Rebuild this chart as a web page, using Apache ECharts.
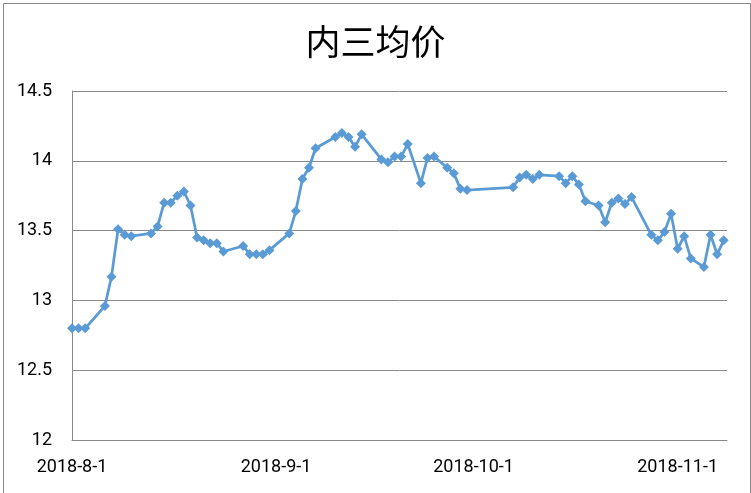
<!DOCTYPE html>
<html>
<head>
<meta charset="utf-8">
<script src="https://cdn.jsdelivr.net/npm/echarts@6/dist/echarts.min.js"></script>
<style>
html,body{margin:0;padding:0;background:#fff;}
#chart{width:751px;height:493px;}
</style>
</head>
<body>
<div id="chart"></div>
<script>
const titleText = '内三均价';
const dates = [
  '2018-08-01','2018-08-02','2018-08-03','2018-08-06','2018-08-07','2018-08-08','2018-08-09','2018-08-10',
  '2018-08-13','2018-08-14','2018-08-15','2018-08-16','2018-08-17','2018-08-18','2018-08-19','2018-08-20',
  '2018-08-21','2018-08-22','2018-08-23','2018-08-24','2018-08-27','2018-08-28','2018-08-29','2018-08-30',
  '2018-08-31','2018-09-03','2018-09-04','2018-09-05','2018-09-06','2018-09-07','2018-09-10','2018-09-11',
  '2018-09-12','2018-09-13','2018-09-14','2018-09-17','2018-09-18','2018-09-19','2018-09-20','2018-09-21',
  '2018-09-23','2018-09-24','2018-09-25','2018-09-27','2018-09-28','2018-09-29','2018-09-30','2018-10-07',
  '2018-10-08','2018-10-09','2018-10-10','2018-10-11','2018-10-14','2018-10-15','2018-10-16','2018-10-17',
  '2018-10-18','2018-10-20','2018-10-21','2018-10-22','2018-10-23','2018-10-24','2018-10-25','2018-10-28',
  '2018-10-29','2018-10-30','2018-10-31','2018-11-01','2018-11-02','2018-11-03','2018-11-05','2018-11-06',
  '2018-11-07','2018-11-08'
];
const prices = [
  12.80,12.80,12.80,12.96,13.17,13.51,13.47,13.46,
  13.48,13.53,13.70,13.70,13.75,13.78,13.68,13.45,
  13.43,13.41,13.41,13.35,13.39,13.33,13.33,13.33,
  13.36,13.48,13.64,13.87,13.95,14.09,14.17,14.20,
  14.17,14.10,14.19,14.01,13.99,14.03,14.03,14.12,
  13.84,14.02,14.03,13.95,13.91,13.80,13.79,13.81,
  13.88,13.90,13.87,13.90,13.89,13.84,13.89,13.83,
  13.71,13.68,13.56,13.70,13.73,13.69,13.74,13.47,
  13.43,13.49,13.62,13.37,13.46,13.30,13.24,13.47,
  13.33,13.43
];
const xTickDates = ['2018-08-01','2018-09-01','2018-10-01','2018-11-01'];
const xMin = '2018-08-01';
const xMax = '2018-11-08 12:00';
const yMin = 12, yMax = 14.5, yStep = 0.5;

function parseLocal(s){
  const m = s.match(/(\d+)-(\d+)-(\d+)(?:\s+(\d+):(\d+))?/);
  return new Date(+m[1], +m[2]-1, +m[3], m[4]?+m[4]:0, m[5]?+m[5]:0).getTime();
}

const chart = echarts.init(document.getElementById('chart'), null, {renderer:'canvas'});
const labelFont = 'Roboto, "Liberation Sans", sans-serif';
chart.setOption({
  backgroundColor:'#ffffff',
  animation:false,
  title:{
    text:titleText,
    left:'center',
    top:19,
    textStyle:{fontFamily:'"Noto Sans CJK SC", sans-serif', fontSize:35, fontWeight:'normal', color:'#000'}
  },
  graphic:[{
    type:'rect', left:1, top:1, shape:{x:0,y:0,width:747,height:490},
    style:{fill:'none', stroke:'#898989', lineWidth:1}, silent:true
  }],
  grid:{left:72, right:24, top:91, bottom:53, containLabel:false},
  xAxis:{
    type:'value',
    min:parseLocal(xMin),
    max:parseLocal(xMax),
    axisLine:{show:true, lineStyle:{color:'#898989', width:1}},
    axisTick:{show:false},
    splitLine:{show:false},
    axisLabel:{
      customValues:xTickDates.map(parseLocal),
      hideOverlap:false,
      margin:18,
      color:'#000',
      fontSize:18,
      fontFamily:labelFont,
      formatter:function(v){
        const d = new Date(v);
        return d.getFullYear()+'-'+(d.getMonth()+1)+'-'+d.getDate();
      }
    }
  },
  yAxis:{
    type:'value',
    min:yMin, max:yMax, interval:yStep,
    axisLine:{show:true, lineStyle:{color:'#898989', width:1}},
    axisTick:{show:false},
    splitLine:{show:true, lineStyle:{color:'#898989', width:1}},
    axisLabel:{color:'#000', fontSize:18, fontFamily:labelFont, margin:20}
  },
  series:[{
    type:'line',
    data:dates.map(function(d,i){return [parseLocal(d), prices[i]];}),
    symbol:'diamond',
    symbolSize:10,
    showAllSymbol:true,
    lineStyle:{color:'#5B9BD5', width:2.75},
    itemStyle:{color:'#5B9BD5'}
  }]
});
</script>
</body>
</html>
